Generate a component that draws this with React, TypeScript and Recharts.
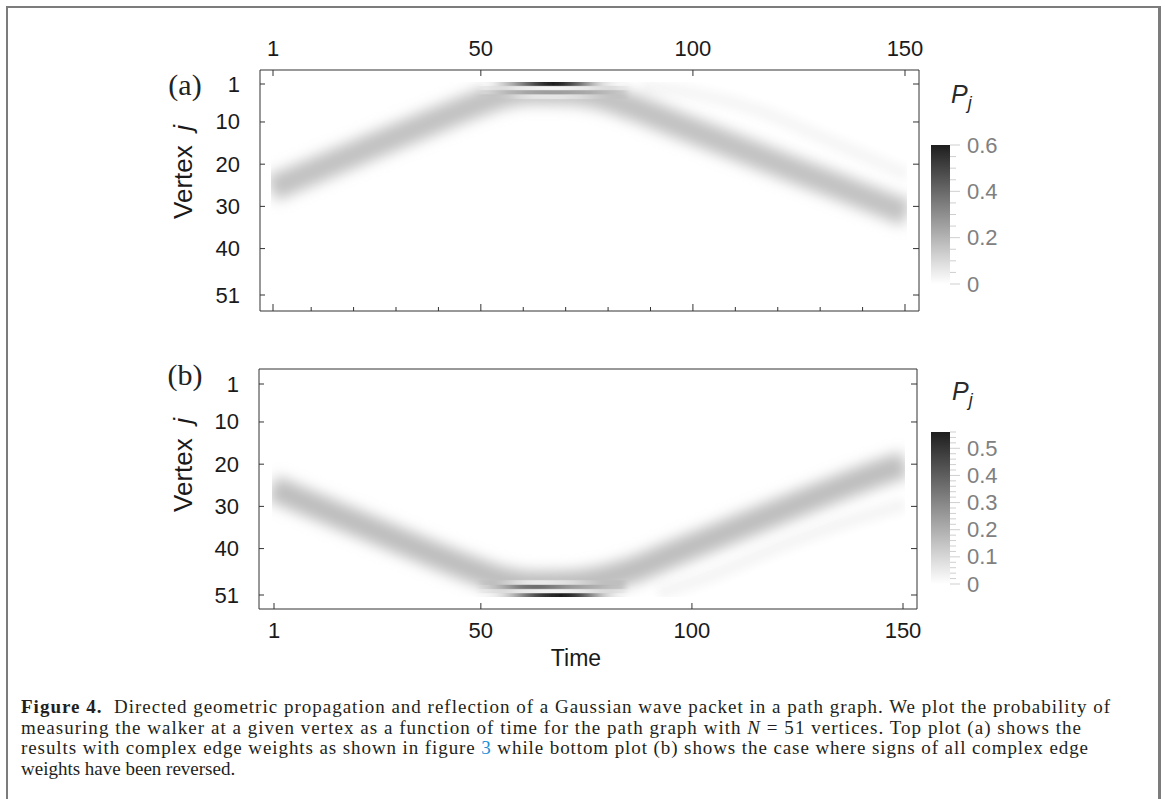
import React from "react";
import {
  BarChart,
  Bar,
  ComposedChart,
  Line,
  XAxis,
  YAxis,
  ReferenceArea,
} from "recharts";

const SANS = "'Liberation Sans', Arial, Helvetica, sans-serif";
const SERIF = "'Liberation Serif', 'Times New Roman', serif";
const AXIS = "#333";

// axis ticks
const timeLabelTicks = [1, 50, 100, 150];
const timeMinorTicks = [1, 10, 20, 30, 40, 50, 60, 70, 80, 90, 100, 110, 120, 130, 140, 150];
const vertexTicks = [1, 10, 20, 30, 40, 51];
const colorTicksA = [0, 0.05, 0.1, 0.15, 0.2, 0.25, 0.3, 0.35, 0.4, 0.45, 0.5, 0.55, 0.6];
const colorTicksB = [
  0, 0.02, 0.04, 0.06, 0.08, 0.1, 0.12, 0.14, 0.16, 0.18, 0.2, 0.22, 0.24, 0.26, 0.28,
  0.3, 0.32, 0.34, 0.36, 0.38, 0.4, 0.42, 0.44, 0.46, 0.48, 0.5, 0.52, 0.54, 0.56,
];

// wave packet centre (vertex) at sampled times
const bandTimes = [0.5, 10, 20, 30, 40, 50, 56, 62, 70, 78, 85, 95, 105, 115, 125, 135, 145, 150.5];
const bandVertexA = [25.8, 21.8, 17.6, 13.4, 9.3, 5.4, 3.5, 2.7, 2.8, 3.9, 6.2, 10.1, 14.0, 17.9, 21.8, 25.6, 29.5, 31.6];
const bandVertexB = [25.6, 29.6, 33.7, 37.8, 41.9, 45.7, 47.6, 48.4, 48.3, 47.3, 45.4, 41.4, 37.4, 33.4, 29.4, 25.5, 21.8, 20.0];
const bandP = 0.165;

// faint trailing packet after the reflection
const echoTimesA = [88, 100, 116, 133, 150.5];
const echoVertexA = [1.5, 3.2, 7.5, 14.8, 22.5];
const echoTimesB = [92, 105, 120, 135, 150.5];
const echoVertexB = [50.6, 46.2, 39.8, 34.2, 29.5];
const echoP = 0.025;

// reflection fringes: cells two time steps wide starting at these times
const fringeTimes = [50, 52, 54, 56, 58, 60, 62, 64, 66, 68, 70, 72, 74, 76, 78, 80, 82];
const fringeA1 = [0.02, 0.05, 0.12, 0.2, 0.3, 0.4, 0.5, 0.57, 0.6, 0.58, 0.5, 0.4, 0.28, 0.16, 0.08, 0.04, 0.02];
const fringeA2 = [0.06, 0.08, 0.09, 0.08, 0.06, 0.05, 0.04, 0.03, 0.03, 0.03, 0.04, 0.05, 0.06, 0.08, 0.09, 0.09, 0.07];
const fringeA3 = [0.11, 0.14, 0.17, 0.2, 0.22, 0.24, 0.25, 0.26, 0.26, 0.26, 0.25, 0.24, 0.23, 0.21, 0.19, 0.17, 0.15];
const fringeA4 = [0.15, 0.16, 0.15, 0.13, 0.1, 0.08, 0.07, 0.07, 0.07, 0.07, 0.08, 0.09, 0.11, 0.13, 0.15, 0.16, 0.16];
const fringeB51 = [0.02, 0.04, 0.08, 0.15, 0.25, 0.35, 0.44, 0.5, 0.54, 0.56, 0.54, 0.47, 0.37, 0.25, 0.14, 0.07, 0.03];
const fringeB50 = [0.06, 0.08, 0.09, 0.08, 0.06, 0.05, 0.04, 0.03, 0.03, 0.03, 0.04, 0.05, 0.06, 0.08, 0.09, 0.09, 0.07];
const fringeB49 = [0.11, 0.15, 0.2, 0.26, 0.32, 0.35, 0.36, 0.35, 0.32, 0.29, 0.26, 0.24, 0.22, 0.2, 0.18, 0.16, 0.15];
const fringeB48 = [0.15, 0.16, 0.14, 0.11, 0.08, 0.06, 0.05, 0.05, 0.06, 0.07, 0.08, 0.1, 0.12, 0.14, 0.16, 0.16, 0.16];

const maxA = 0.6;
const maxB = 0.56;

// pixel layout of the two panels
const panelA = { left: 260, top: 70, right: 919, bottom: 311, t1: 273, tStep: 4.2416, v1: 84, vStep: 4.22 };
const panelB = { left: 259, top: 369, right: 917, bottom: 609, t1: 274, tStep: 4.2215, v1: 384, vStep: 4.22 };
const AX_SIZE = 20;

const grey = (p: number, pmax: number) => {
  const g = Math.round(255 - 225 * Math.min(1, Math.max(0, p / pmax)));
  return `rgb(${g},${g},${g})`;
};

const pts = (ts: number[], vs: number[]) => ts.map((t, i) => ({ t, v: vs[i] }));

type Side = "left" | "right" | "top" | "bottom";

const axisTick =
  (side: Side, opts: { labels?: boolean; major?: number[]; len: number; minorLen?: number }) =>
  (props: any) => {
    const { x, y, payload } = props;
    const v = payload.value;
    const isMajor = !opts.major || opts.major.includes(v);
    const len = isMajor ? opts.len : opts.minorLen ?? opts.len;
    let x2 = x;
    let y2 = y;
    let tx = x;
    let ty = y;
    let anchor: "start" | "middle" | "end" = "middle";
    if (side === "left") {
      x2 = x + len;
      tx = x - 20;
      anchor = "end";
    } else if (side === "right") {
      x2 = x - len;
    } else if (side === "top") {
      y2 = y + len;
      ty = y - 22;
    } else {
      y2 = y - len;
      ty = y + 21;
    }
    return (
      <g>
        <line x1={x} y1={y} x2={x2} y2={y2} stroke={AXIS} strokeWidth={1} />
        {opts.labels && (
          <text x={tx} y={ty} textAnchor={anchor} dominantBaseline="central" fontFamily={SANS} fontSize={22} fill="#1a1a1a">
            {v}
          </text>
        )}
      </g>
    );
  };

const colorTick = (majorEvery: number) => (props: any) => {
  const { x, y, payload } = props;
  const v = payload.value;
  const r = v / majorEvery;
  const isMajor = Math.abs(r - Math.round(r)) < 1e-6;
  return (
    <g>
      <line x1={x} y1={y} x2={x + (isMajor ? 10 : 6)} y2={y} stroke="#cfcfcf" strokeWidth={1} />
      {isMajor && (
        <text x={x + 17} y={y} dominantBaseline="central" fontFamily={SANS} fontSize={22} fill="#808080">
          {v === 0 ? "0" : v.toFixed(1)}
        </text>
      )}
    </g>
  );
};

type Panel = typeof panelA;

function Frame({ p, chartTop, chartHeight, hasTopTicks }: { p: Panel; chartTop: number; chartHeight: number; hasTopTicks: boolean }) {
  const xDom = [1 - (p.t1 - p.left) / p.tStep, 1 + (p.right - p.t1) / p.tStep];
  const yDom = [1 - (p.v1 - p.top) / p.vStep, 1 + (p.bottom - p.v1) / p.vStep];
  const anchor = [{ t: 1, v: 1 }];
  return (
    <div style={{ position: "absolute", left: 0, top: chartTop }}>
      <ComposedChart
        width={1165}
        height={chartHeight}
        data={anchor}
        margin={{
          top: p.top - chartTop - AX_SIZE,
          left: p.left - AX_SIZE,
          right: 1165 - p.right - AX_SIZE,
          bottom: chartTop + chartHeight - p.bottom - AX_SIZE,
        }}
      >
        <XAxis
          xAxisId="top"
          orientation="top"
          type="number"
          dataKey="t"
          domain={xDom}
          allowDataOverflow
          height={AX_SIZE}
          interval={0}
          tickSize={0}
          tickMargin={0}
          tickLine={false}
          axisLine={{ stroke: AXIS }}
          ticks={hasTopTicks ? timeLabelTicks : []}
          tick={hasTopTicks ? axisTick("top", { labels: true, len: 6 }) : false}
        />
        <XAxis
          xAxisId="bottom"
          orientation="bottom"
          type="number"
          dataKey="t"
          domain={xDom}
          allowDataOverflow
          height={AX_SIZE}
          interval={0}
          tickSize={0}
          tickMargin={0}
          tickLine={false}
          axisLine={{ stroke: AXIS }}
          ticks={hasTopTicks ? timeMinorTicks : timeLabelTicks}
          tick={
            hasTopTicks
              ? axisTick("bottom", { labels: false, major: timeLabelTicks, len: 7, minorLen: 4 })
              : axisTick("bottom", { labels: true, len: 6 })
          }
        />
        <YAxis
          yAxisId="left"
          orientation="left"
          type="number"
          dataKey="v"
          domain={yDom}
          allowDataOverflow
          reversed
          width={AX_SIZE}
          interval={0}
          tickSize={0}
          tickMargin={0}
          tickLine={false}
          axisLine={{ stroke: AXIS }}
          ticks={vertexTicks}
          tick={axisTick("left", { labels: true, len: 5 })}
        />
        <YAxis
          yAxisId="right"
          orientation="right"
          type="number"
          dataKey="v"
          domain={yDom}
          allowDataOverflow
          reversed
          width={AX_SIZE}
          interval={0}
          tickSize={0}
          tickMargin={0}
          tickLine={false}
          axisLine={{ stroke: AXIS }}
          ticks={vertexTicks}
          tick={axisTick("right", { labels: false, len: 6 })}
        />
        <Line xAxisId="top" yAxisId="left" dataKey="v" stroke="none" dot={false} activeDot={false} isAnimationActive={false} />
        <Line xAxisId="bottom" yAxisId="right" dataKey="v" stroke="none" dot={false} activeDot={false} isAnimationActive={false} />
      </ComposedChart>
    </div>
  );
}

function HeatLayer({ p, soft, children }: { p: Panel; soft?: string; children: React.ReactNode }) {
  const left = p.t1 - 0.5 * p.tStep;
  const top = p.v1 - 0.5 * p.vStep;
  const width = 150 * p.tStep;
  const height = 51 * p.vStep;
  return (
    <div style={{ position: "absolute", left, top, width, height, overflow: "hidden" }}>
      <div style={{ width, height, filter: soft }}>
        <ComposedChart width={width} height={height} margin={{ top: 0, right: 0, bottom: 0, left: 0 }}>
          <XAxis type="number" dataKey="t" domain={[0.5, 150.5]} allowDataOverflow hide />
          <YAxis type="number" dataKey="v" domain={[0.5, 51.5]} allowDataOverflow reversed hide />
          {children}
        </ComposedChart>
      </div>
    </div>
  );
}

const bandLines = (band: { t: number; v: number }[], echo: { t: number; v: number }[], pmax: number) => [
  <Line
    key="echo"
    data={echo}
    dataKey="v"
    type="monotone"
    stroke={grey(echoP, pmax)}
    strokeWidth={14}
    dot={false}
    activeDot={false}
    isAnimationActive={false}
    style={{ filter: "url(#softEcho)" }}
  />,
  <Line
    key="band"
    data={band}
    dataKey="v"
    type="monotone"
    stroke={grey(bandP, pmax)}
    strokeWidth={26}
    dot={false}
    activeDot={false}
    isAnimationActive={false}
    style={{ filter: "url(#softBand)" }}
  />,
];

const fringeCells = (rows: { v: number; p: number[] }[], pmax: number) =>
  rows.flatMap((r) =>
    r.p.map((val, i) => {
      const c = grey(val, pmax);
      return (
        <ReferenceArea
          key={`${r.v}-${i}`}
          x1={fringeTimes[i]}
          x2={fringeTimes[i] + 2}
          y1={r.v - 0.5}
          y2={r.v + 0.5}
          fill={c}
          fillOpacity={1}
          stroke={c}
          strokeWidth={0.5}
          ifOverflow="visible"
        />
      );
    })
  );

function ColorBar({ left, top, barLength, pmax, ticks, majorEvery, grad }: any) {
  return (
    <div style={{ position: "absolute", left, top }}>
      <BarChart
        width={110}
        height={barLength + 40}
        data={[{ k: "P", p: pmax }]}
        margin={{ top: 20, left: 6, right: 0, bottom: 20 }}
        barCategoryGap={0}
      >
        <XAxis dataKey="k" hide />
        <YAxis
          orientation="right"
          width={85}
          type="number"
          domain={[0, pmax]}
          allowDataOverflow
          ticks={ticks}
          interval={0}
          tickSize={0}
          tickMargin={0}
          axisLine={false}
          tickLine={false}
          tick={colorTick(majorEvery)}
        />
        <Bar dataKey="p" fill={`url(#${grad})`} isAnimationActive={false} />
      </BarChart>
    </div>
  );
}

export default function App() {
  const bandA = pts(bandTimes, bandVertexA);
  const bandB = pts(bandTimes, bandVertexB);
  const echoA = pts(echoTimesA, echoVertexA);
  const echoB = pts(echoTimesB, echoVertexB);

  return (
    <div style={{ position: "absolute", left: 0, top: 0, width: 1165, height: 799, background: "#fff", overflow: "hidden" }}>
      <svg width={0} height={0} style={{ position: "absolute" }}>
        <defs>
          <linearGradient id="cbA" x1="0" y1="0" x2="0" y2="1">
            <stop offset="0%" stopColor="#1e1e1e" />
            <stop offset="100%" stopColor="#ffffff" />
          </linearGradient>
          <linearGradient id="cbB" x1="0" y1="0" x2="0" y2="1">
            <stop offset="0%" stopColor="#1e1e1e" />
            <stop offset="100%" stopColor="#ffffff" />
          </linearGradient>
          <filter id="softBand" filterUnits="userSpaceOnUse" x={-200} y={-200} width={1200} height={700}>
            <feGaussianBlur stdDeviation="7" />
          </filter>
          <filter id="softEcho" filterUnits="userSpaceOnUse" x={-200} y={-200} width={1200} height={700}>
            <feGaussianBlur stdDeviation="4" />
          </filter>
          <filter id="softCells" x="-5%" y="-5%" width="110%" height="110%">
            <feGaussianBlur stdDeviation="3 0.6" />
          </filter>
        </defs>
      </svg>

      {/* figure frame */}
      <div
        style={{
          position: "absolute",
          left: 6,
          top: 6,
          width: 1150,
          height: 820,
          borderLeft: "2px solid #7c7c7c",
          borderTop: "2px solid #7c7c7c",
          borderRight: "3px solid #7c7c7c",
        }}
      />

      {/* panel (a) */}
      <HeatLayer p={panelA}>{bandLines(bandA, echoA, maxA)}</HeatLayer>
      <HeatLayer p={panelA} soft="url(#softCells)">
        {fringeCells(
          [
            { v: 1, p: fringeA1 },
            { v: 2, p: fringeA2 },
            { v: 3, p: fringeA3 },
            { v: 4, p: fringeA4 },
          ],
          maxA
        )}
      </HeatLayer>
      <Frame p={panelA} chartTop={0} chartHeight={335} hasTopTicks={true} />
      <ColorBar left={925} top={125} barLength={139} pmax={maxA} ticks={colorTicksA} majorEvery={0.2} grad="cbA" />

      {/* panel (b) */}
      <HeatLayer p={panelB}>{bandLines(bandB, echoB, maxB)}</HeatLayer>
      <HeatLayer p={panelB} soft="url(#softCells)">
        {fringeCells(
          [
            { v: 51, p: fringeB51 },
            { v: 50, p: fringeB50 },
            { v: 49, p: fringeB49 },
            { v: 48, p: fringeB48 },
          ],
          maxB
        )}
      </HeatLayer>
      <Frame p={panelB} chartTop={340} chartHeight={305} hasTopTicks={false} />
      <ColorBar left={925} top={412} barLength={152} pmax={maxB} ticks={colorTicksB} majorEvery={0.1} grad="cbB" />

      {/* labels and caption */}
      <svg width={1165} height={799} style={{ position: "absolute", left: 0, top: 0, pointerEvents: "none" }}>
        <text x={185} y={84} textAnchor="middle" dominantBaseline="central" fontFamily={SERIF} fontSize={30} fill="#222">
          (a)
        </text>
        <text x={185} y={374} textAnchor="middle" dominantBaseline="central" fontFamily={SERIF} fontSize={30} fill="#222">
          (b)
        </text>
        <text
          x={183}
          y={172}
          transform="rotate(-90 183 172)"
          textAnchor="middle"
          dominantBaseline="central"
          fontFamily={SANS}
          fontSize={26}
          fill="#1a1a1a"
          xmlSpace="preserve"
        >
          {"Vertex  "}
          <tspan fontStyle="italic">j</tspan>
        </text>
        <text
          x={183}
          y={465}
          transform="rotate(-90 183 465)"
          textAnchor="middle"
          dominantBaseline="central"
          fontFamily={SANS}
          fontSize={26}
          fill="#1a1a1a"
          xmlSpace="preserve"
        >
          {"Vertex  "}
          <tspan fontStyle="italic">j</tspan>
        </text>
        <text x={576} y={658} textAnchor="middle" dominantBaseline="central" fontFamily={SANS} fontSize={23} fill="#1a1a1a">
          Time
        </text>
        <text x={951} y={103} fontFamily={SANS} fontSize={25} fontStyle="italic" fill="#2a2a2a">
          P<tspan fontSize={18} dy={6}>j</tspan>
        </text>
        <text x={952} y={400} fontFamily={SANS} fontSize={25} fontStyle="italic" fill="#2a2a2a">
          P<tspan fontSize={18} dy={6}>j</tspan>
        </text>

        <g fontFamily={SERIF} fontSize={19} fill="#231f20">
          <text x={21} y={713} textLength={1089} lengthAdjust="spacing" xmlSpace="preserve">
            <tspan fontWeight="bold">Figure 4.</tspan>
            {"  Directed geometric propagation and reflection of a Gaussian wave packet in a path graph. We plot the probability of"}
          </text>
          <text x={21} y={734} textLength={1060} lengthAdjust="spacing" xmlSpace="preserve">
            {"measuring the walker at a given vertex as a function of time for the path graph with "}
            <tspan fontStyle="italic">N</tspan>
            {" = 51 vertices. Top plot (a) shows the"}
          </text>
          <text x={21} y={754} textLength={1067} lengthAdjust="spacing" xmlSpace="preserve">
            {"results with complex edge weights as shown in figure "}
            <tspan fill="#1a8fd6">3</tspan>
            {" while bottom plot (b) shows the case where signs of all complex edge"}
          </text>
          <text x={21} y={775}>
            weights have been reversed.
          </text>
        </g>
      </svg>
    </div>
  );
}
